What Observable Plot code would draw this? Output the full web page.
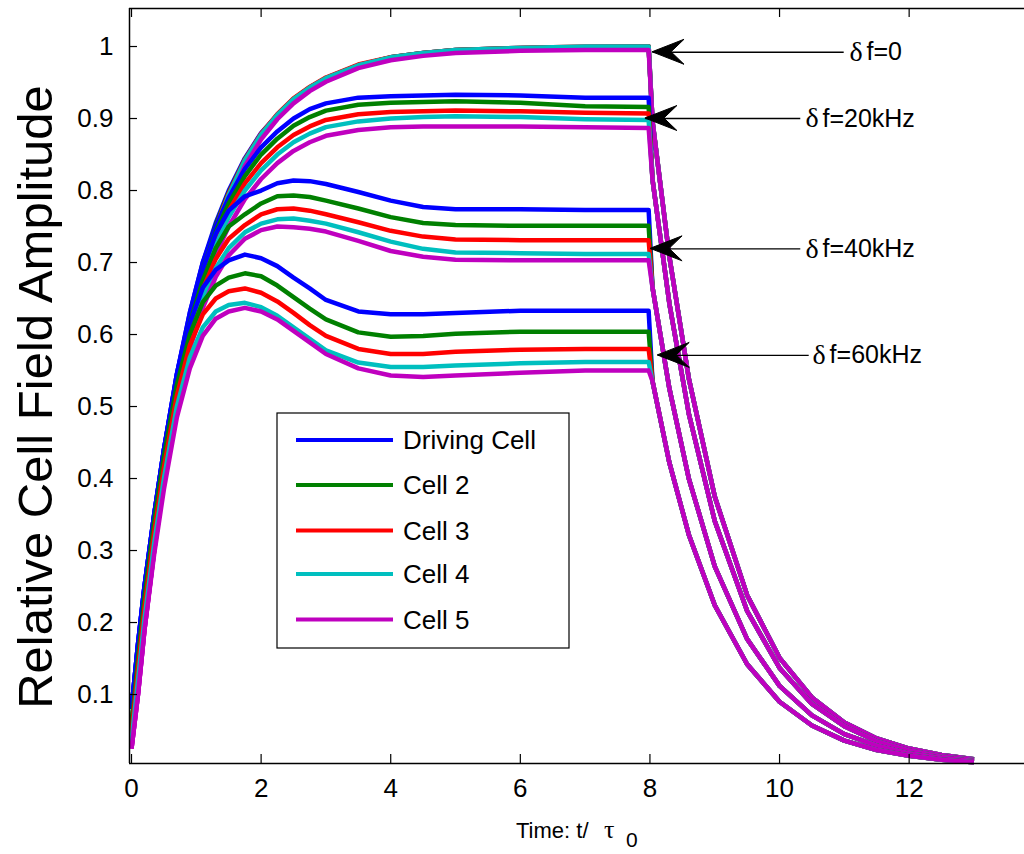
<!DOCTYPE html>
<html><head><meta charset="utf-8">
<script src="https://cdn.jsdelivr.net/npm/d3@7"></script>
<script src="https://cdn.jsdelivr.net/npm/@observablehq/plot@0.6"></script>
<style>body{margin:0;background:#fff}#chart{width:1024px;height:854px}</style>
</head><body><div id="chart"></div>
<script>
// ---- data ----
const riseTime = [0,0.1,0.2,0.35,0.5,0.7,0.9,1.1,1.3,1.5,1.75,2,2.25,2.5,2.75,3,3.5,4,4.5,5,6,7,7.98];
const decayTime = [8.04,8.3,8.6,9,9.5,10,10.5,11,11.5,12,12.5,13];

const cellNames = ["Driving Cell","Cell 2","Cell 3","Cell 4","Cell 5"];
const cellColors = ["#0000ff","#008000","#ff0000","#00bfbf","#bf00bf"];
const groupNames = ["δf=0","δf=20kHz","δf=40kHz","δf=60kHz"];

// rise + plateau (t = riseTime)
const df0_c1 = [0.08,0.17,0.25,0.35,0.44,0.545,0.63,0.70,0.755,0.80,0.845,0.88,0.905,0.927,0.943,0.956,0.974,0.985,0.991,0.995,0.998,0.999,1.0];
const df0_c2 = [0.055,0.15,0.235,0.34,0.43,0.537,0.624,0.695,0.752,0.797,0.843,0.878,0.905,0.927,0.943,0.956,0.974,0.985,0.991,0.995,0.998,0.999,1.0];
const df0_c3 = [0.045,0.135,0.22,0.325,0.42,0.53,0.618,0.69,0.749,0.796,0.843,0.879,0.906,0.928,0.944,0.957,0.975,0.985,0.991,0.995,0.998,1.0,1.0];
const df0_c4 = [0.035,0.12,0.205,0.315,0.41,0.523,0.612,0.686,0.746,0.794,0.842,0.878,0.905,0.927,0.943,0.956,0.974,0.985,0.991,0.995,0.998,1.0,1.0];
const df0_c5 = [0.025,0.1,0.19,0.3,0.395,0.51,0.6,0.675,0.736,0.785,0.834,0.871,0.899,0.921,0.938,0.951,0.97,0.981,0.987,0.991,0.994,0.995,0.995];

const df20_c1 = [0.08,0.17,0.25,0.35,0.44,0.545,0.63,0.70,0.75,0.79,0.83,0.86,0.882,0.9,0.913,0.921,0.929,0.931,0.932,0.933,0.932,0.929,0.929];
const df20_c2 = [0.055,0.15,0.235,0.34,0.43,0.537,0.62,0.69,0.742,0.782,0.82,0.85,0.872,0.89,0.902,0.911,0.919,0.922,0.923,0.924,0.922,0.917,0.916];
const df20_c3 = [0.045,0.135,0.22,0.325,0.42,0.53,0.612,0.68,0.733,0.772,0.81,0.838,0.86,0.877,0.889,0.898,0.906,0.909,0.91,0.911,0.91,0.908,0.907];
const df20_c4 = [0.035,0.12,0.205,0.315,0.41,0.52,0.603,0.671,0.724,0.763,0.8,0.828,0.85,0.867,0.879,0.888,0.896,0.9,0.902,0.903,0.902,0.899,0.898];
const df20_c5 = [0.025,0.1,0.19,0.3,0.395,0.505,0.59,0.658,0.711,0.75,0.788,0.816,0.838,0.855,0.867,0.876,0.884,0.888,0.889,0.889,0.889,0.888,0.887];

const df40_c1 = [0.08,0.17,0.25,0.35,0.44,0.545,0.625,0.69,0.74,0.772,0.792,0.80,0.81,0.814,0.813,0.809,0.798,0.786,0.777,0.774,0.774,0.773,0.773];
const df40_c2 = [0.055,0.15,0.235,0.34,0.43,0.535,0.615,0.675,0.72,0.75,0.767,0.782,0.792,0.793,0.791,0.786,0.775,0.763,0.755,0.752,0.751,0.751,0.751];
const df40_c3 = [0.045,0.135,0.22,0.325,0.42,0.525,0.605,0.663,0.705,0.733,0.752,0.767,0.774,0.775,0.772,0.767,0.756,0.744,0.736,0.732,0.731,0.731,0.731];
const df40_c4 = [0.035,0.12,0.205,0.315,0.41,0.515,0.594,0.65,0.692,0.72,0.742,0.754,0.76,0.761,0.758,0.754,0.742,0.729,0.719,0.714,0.713,0.712,0.712];
const df40_c5 = [0.025,0.1,0.19,0.3,0.395,0.5,0.58,0.637,0.68,0.71,0.733,0.745,0.75,0.749,0.747,0.743,0.73,0.716,0.708,0.704,0.703,0.703,0.703];

const df60_c1 = [0.08,0.17,0.25,0.35,0.44,0.54,0.615,0.665,0.69,0.703,0.711,0.706,0.695,0.679,0.664,0.648,0.632,0.628,0.628,0.63,0.633,0.633,0.633];
const df60_c2 = [0.055,0.15,0.235,0.34,0.43,0.53,0.6,0.645,0.668,0.679,0.685,0.681,0.668,0.652,0.636,0.621,0.603,0.597,0.598,0.601,0.604,0.604,0.604];
const df60_c3 = [0.045,0.135,0.22,0.325,0.415,0.515,0.585,0.628,0.65,0.66,0.664,0.658,0.646,0.63,0.613,0.598,0.58,0.573,0.573,0.576,0.579,0.58,0.58];
const df60_c4 = [0.035,0.12,0.205,0.31,0.4,0.5,0.568,0.61,0.632,0.641,0.644,0.638,0.626,0.61,0.594,0.578,0.561,0.555,0.555,0.557,0.56,0.562,0.562];
const df60_c5 = [0.025,0.1,0.19,0.295,0.385,0.485,0.553,0.598,0.622,0.632,0.637,0.632,0.621,0.605,0.589,0.573,0.553,0.543,0.541,0.543,0.547,0.55,0.55];

// decay after drive switched off (t = decayTime), per detuning
const df0_decay  = [0.896,0.708,0.539,0.375,0.238,0.151,0.096,0.061,0.039,0.025,0.016,0.010];
const df20_decay = [0.815,0.643,0.49,0.341,0.216,0.137,0.087,0.056,0.035,0.022,0.014,0.009];
const df40_decay = [0.665,0.525,0.40,0.278,0.177,0.112,0.071,0.045,0.029,0.018,0.012,0.0073];
const df60_decay = [0.535,0.422,0.322,0.224,0.142,0.09,0.057,0.036,0.023,0.015,0.0093,0.0059];

// annotations
const annLabel = ["f=0","f=20kHz","f=40kHz","f=60kHz"];
const annY     = [0.992,0.9,0.719,0.571];
const annTipX  = [8.04,7.93,8.01,8.12];
const annTailX = [10.99,10.32,10.32,10.45];
const annTextX = [11.08,10.40,10.40,10.51];

const xTicks = [0,2,4,6,8,10,12];
const yTicks = [0.1,0.2,0.3,0.4,0.5,0.6,0.7,0.8,0.9,1];
const yTickLabels = ["0.1","0.2","0.3","0.4","0.5","0.6","0.7","0.8","0.9","1"];

// ---- build table ----
const riseSets = [
  [df0_c1,df0_c2,df0_c3,df0_c4,df0_c5],
  [df20_c1,df20_c2,df20_c3,df20_c4,df20_c5],
  [df40_c1,df40_c2,df40_c3,df40_c4,df40_c5],
  [df60_c1,df60_c2,df60_c3,df60_c4,df60_c5]
];
const decaySets = [df0_decay,df20_decay,df40_decay,df60_decay];
const rows = [];
groupNames.forEach((g,gi)=>{
  cellNames.forEach((c,ci)=>{
    const key = g+"|"+c;
    riseTime.forEach((t,i)=>rows.push({t, v: riseSets[gi][ci][i], key, cell:c}));
    decayTime.forEach((t,i)=>rows.push({t, v: decaySets[gi][i], key, cell:c}));
  });
});
const ann = annLabel.map((l,i)=>({label:l, y:annY[i], tip:annTipX[i], tail:annTailX[i], tx:annTextX[i]}));

const xDom = [-0.031, 13.78], yDom = [0.0042, 1.0528];
const font = "Liberation Sans, Arial, Helvetica, sans-serif";
const serif = "Liberation Serif, Times New Roman, serif";

const chart = Plot.plot({
  width:1024, height:854,
  marginLeft:129, marginRight:0, marginTop:8, marginBottom:91,
  x:{domain:xDom}, y:{domain:yDom},
  color:{domain:cellNames, range:cellColors},
  style:{fontFamily:font, background:"white", color:"black", overflow:"visible"},
  marks:[
    Plot.line(rows,{x:"t",y:"v",z:"key",stroke:"cell",strokeWidth:4.5,strokeLinejoin:"round",strokeLinecap:"butt"}),
    Plot.ruleY([yDom[0]],{stroke:"black",strokeWidth:1.5}),
    Plot.ruleY([yDom[1]],{stroke:"black",strokeWidth:1.5}),
    Plot.ruleX([xDom[0]],{stroke:"black",strokeWidth:1.5}),
    Plot.axisX(xTicks,{anchor:"bottom",tickSize:-9,tickPadding:24,fontSize:26,label:null,strokeWidth:1.2}),
    Plot.axisX(xTicks,{anchor:"top",tickSize:-8,tickFormat:()=>"",label:null,strokeWidth:1.2}),
    Plot.axisY(yTicks,{anchor:"left",tickSize:-8,tickPadding:24,fontSize:26,label:null,tickFormat:(d,i)=>yTickLabels[i],strokeWidth:1.2}),
    Plot.link(ann,{x1:"tail",y1:"y",x2:"tip",y2:"y",stroke:"black",strokeWidth:1.4}),
    Plot.text(ann,{x:"tx",y:"y",text:()=>"δ",textAnchor:"start",fontFamily:serif,fontSize:28}),
    Plot.text(ann,{x:"tx",y:"y",text:"label",textAnchor:"start",dx:17,fontFamily:font,fontSize:25})
  ]
});
document.getElementById("chart").appendChild(chart);

// ---- filled arrowheads placed through the plot's own scales ----
const svg = d3.select(chart);
const sx = chart.scale("x"), sy = chart.scale("y");
svg.append("g").selectAll("path").data(ann).join("path")
  .attr("transform", d => `translate(${sx.apply(d.tip)},${sy.apply(d.y)})`)
  .attr("d", "M0,0 L32,-12.5 L19,0 L32,12.5 Z")
  .attr("fill","black").attr("stroke","black").attr("stroke-width",1).attr("stroke-linejoin","miter");

// ---- axis titles and legend (SVG text) ----
svg.append("text")
  .attr("transform","translate(52,397) rotate(-90)")
  .attr("text-anchor","middle")
  .attr("font-family",font).attr("font-size",49).attr("fill","black")
  .text("Relative Cell Field Amplitude");

const xl = svg.append("text").attr("x",516).attr("y",838).attr("text-anchor","start")
  .attr("font-family",font).attr("font-size",22).attr("fill","black");
xl.append("tspan").text("Time: t/");
xl.append("tspan").attr("x",604).attr("font-family",serif).attr("font-size",26).text("τ");
xl.append("tspan").attr("x",626).attr("dy",9).attr("font-size",21).text("0");

const lg = svg.append("g");
lg.append("rect").attr("x",277).attr("y",413).attr("width",292).attr("height",235)
  .attr("fill","white").attr("stroke","black").attr("stroke-width",1.2);
const rowY = [440,485,530.5,574,619.5];
cellNames.forEach((c,i)=>{
  lg.append("line").attr("x1",296).attr("x2",393).attr("y1",rowY[i]).attr("y2",rowY[i])
    .attr("stroke",cellColors[i]).attr("stroke-width",4);
  lg.append("text").attr("x",403).attr("y",rowY[i]).attr("dy","0.35em").attr("text-anchor","start")
    .attr("font-family",font).attr("font-size",26).attr("fill","black").text(c);
});
</script>
</body></html>
